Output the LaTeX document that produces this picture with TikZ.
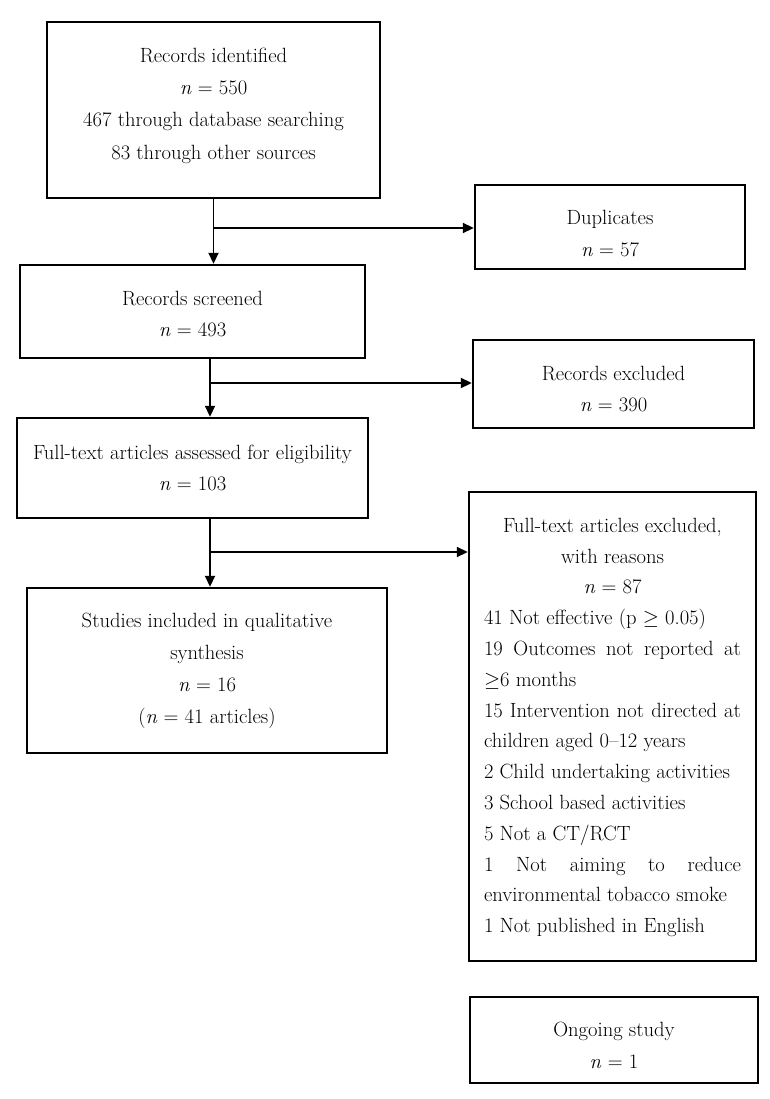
\documentclass[tikz,border=0pt]{standalone}
\usetikzlibrary{arrows.meta,calc}
\begin{document}
\begin{tikzpicture}[x=1pt,y=-1pt,
  box/.style={draw,line width=2.4pt,inner sep=0pt},
  txt/.style={inner sep=0pt,align=center,font=\fontsize{20.6}{31.8}\selectfont},
  arr/.style={line width=1.8pt,-{Triangle[length=11pt,width=10pt]}}]
\useasboundingbox (0,0) rectangle (769,1099);
% boxes
\node[box,minimum width=333,minimum height=176] (id) at (213.5,110) {};
\node[box,minimum width=270,minimum height=84] (dup) at (610,227) {};
\node[box,minimum width=345,minimum height=93] (scr) at (192.5,311.5) {};
\node[box,minimum width=281,minimum height=88] (rex) at (613.5,384) {};
\node[box,minimum width=351,minimum height=100] (ass) at (192.5,468) {};
\node[box,minimum width=287,minimum height=469] (fex) at (612.5,726.5) {};
\node[box,minimum width=360,minimum height=165] (inc) at (207,670.5) {};
\node[box,minimum width=288,minimum height=86] (ong) at (614,1040) {};
% texts
\node[txt,font=\fontsize{20.6}{32.3}\selectfont] (tid) at ($(id.center)+(0,-4.5)$)
  {Records identified\\ \textit{n} = 550\\ 467 through database searching\\ 83 through other sources};
\node[txt] (tdup) at ($(dup.center)+(0,6.5)$) {Duplicates\\ \textit{n} = 57};
\node[txt] (tscr) at ($(scr.center)+(0,2.5)$) {Records screened\\ \textit{n} = 493};
\node[txt] (trex) at ($(rex.center)+(0,5)$) {Records excluded\\ \textit{n} = 390};
\node[txt] (tass) at ($(ass.center)+(0,0)$) {Full-text articles assessed for eligibility\\ \textit{n} = 103};
\node[txt,font=\fontsize{20.6}{30.8}\selectfont] (tfex) at ($(fex.center)+(0,1)$)
  {Full-text articles excluded,\\ with reasons\\ \textit{n} = 87\\
   \makebox[257pt][l]{41 Not effective (p $\geq$ 0.05)}\\
   \makebox[257pt][s]{19 Outcomes not reported at}\\
   \makebox[257pt][l]{$\geq$6 months}\\
   \makebox[257pt][s]{15 Intervention not directed at}\\
   \makebox[257pt][l]{children aged 0--12 years}\\
   \makebox[257pt][l]{2 Child undertaking activities}\\
   \makebox[257pt][l]{3 School based activities}\\
   \makebox[257pt][l]{5 Not a CT/RCT}\\
   \makebox[257pt][s]{1 Not aiming to reduce}\\
   \makebox[257pt][l]{environmental tobacco smoke}\\
   \makebox[257pt][l]{1 Not published in English}};
\node[txt] (tinc) at ($(inc.center)+(0,0.5)$)
  {Studies included in qualitative\\ synthesis\\ \textit{n} = 16\\ (\textit{n} = 41 articles)};
\node[txt] (tong) at ($(ong.center)+(0,5)$) {Ongoing study\\ \textit{n} = 1};
% connectors
\coordinate (v1) at (213.5,228);
\coordinate (v2) at (210,383);
\coordinate (v3) at (210,552);
\draw[arr] (id.south -| v1) -- (scr.north -| v1);
\draw[arr] (v1) -- (v1 -| dup.west);
\draw[arr] (scr.south -| v2) -- (ass.north -| v2);
\draw[arr] (v2) -- (v2 -| rex.west);
\draw[arr] (ass.south -| v3) -- (inc.north -| v3);
\draw[arr] (v3) -- (v3 -| fex.west);
\end{tikzpicture}
\end{document}
